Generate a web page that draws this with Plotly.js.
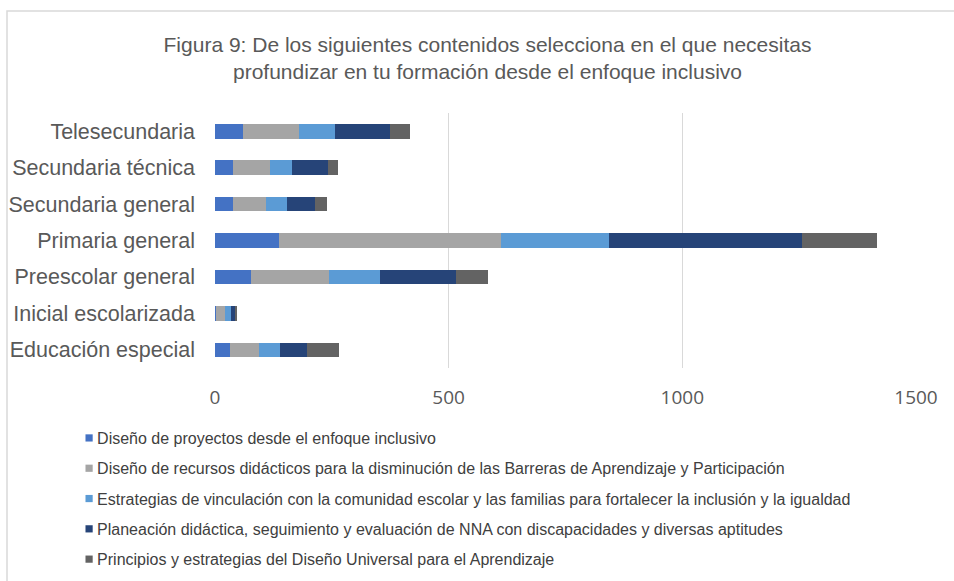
<!DOCTYPE html>
<html>
<head>
<meta charset="utf-8">
<script src="https://cdn.plot.ly/plotly-3.0.1.min.js"></script>
<style>html,body{margin:0;padding:0;background:#fff;}#chart{width:954px;height:581px;}</style>
</head>
<body>
<div id="chart"></div>
<script>
const categories = ["Telesecundaria","Secundaria técnica","Secundaria general","Primaria general","Preescolar general","Inicial escolarizada","Educación especial"];
const seriesNames = [
  "Diseño de proyectos desde el enfoque inclusivo",
  "Diseño de recursos didácticos para la disminución de las Barreras de Aprendizaje y Participación",
  "Estrategias de vinculación con la comunidad escolar y las familias para fortalecer la inclusión y la igualdad",
  "Planeación didáctica, seguimiento y evaluación de NNA con discapacidades y diversas aptitudes",
  "Principios y estrategias del Diseño Universal para el Aprendizaje"
];
const disenoProyectos   = [59, 39, 39, 138, 76, 2, 33];
const disenoRecursos    = [121, 79, 70, 473, 167, 19, 61];
const estrategiasVinc   = [76, 46, 44, 232, 110, 13, 46];
const planeacion        = [119, 78, 62, 413, 163, 8, 56];
const principiosDUA     = [43, 22, 24, 161, 69, 4, 70];
const tickVals = [0, 500, 1000, 1500];
const colors = ["#4472C4","#A5A5A5","#5B9BD5","#264478","#636363"];

const values = [disenoProyectos, disenoRecursos, estrategiasVinc, planeacion, principiosDUA];
const traces = values.map((v, i) => ({
  type: 'bar', orientation: 'h', x: v, y: categories, name: seriesNames[i],
  legendgroup: 'g' + i,
  marker: {color: colors[i], line: {width: 0}}
}));

const layout = {
  width: 954, height: 581,
  paper_bgcolor: '#fff', plot_bgcolor: '#fff',
  margin: {l: 215, r: 38, t: 113, b: 213, autoexpand: false},
  barmode: 'stack', bargap: 0.6,
  title: {
    text: 'Figura 9: De los siguientes contenidos selecciona en el que necesitas<br>profundizar en tu formación desde el enfoque inclusivo',
    font: {family: 'Liberation Sans, Arial, sans-serif', size: 21, color: '#595959'},
    x: 0.511, xref: 'container', xanchor: 'center',
    y: 0.911, yref: 'container', yanchor: 'middle'
  },
  xaxis: {
    range: [0, 1500], tickvals: tickVals, ticktext: tickVals.map(String),
    showgrid: true, gridcolor: '#D9D9D9', gridwidth: 1.5, zeroline: false,
    showline: false, ticks: '', ticklen: 0, ticklabelstandoff: 16,
    tickfont: {family: 'Open Sans, sans-serif', size: 19, color: '#595959'}
  },
  yaxis: {
    type: 'category', autorange: 'reversed',
    showgrid: false, zeroline: false, showline: false, ticks: '',
    ticklabelstandoff: 19,
    tickfont: {family: 'Liberation Sans, Arial, sans-serif', size: 21.5, color: '#595959'}
  },
  showlegend: true,
  legend: {
    orientation: 'v', traceorder: 'grouped', tracegroupgap: 6.5,
    x: -0.211, xanchor: 'left', y: -0.208, yanchor: 'top',
    font: {family: 'Liberation Sans, Arial, sans-serif', size: 16, color: '#404040'},
    itemwidth: 30, bgcolor: 'rgba(0,0,0,0)'
  },
  shapes: [{
    type: 'rect', xref: 'paper', yref: 'paper', layer: 'below',
    x0: (7 - 215) / 701, x1: 1.2, y0: -1.5, y1: (368 - 11) / 255,
    line: {color: '#D9D9D9', width: 1.5}, fillcolor: 'rgba(0,0,0,0)'
  }]
};

Plotly.newPlot('chart', traces, layout, {displayModeBar: false, staticPlot: true}).then(gd => {
  // compact legend symbols like the original (small square right next to the text)
  gd.querySelectorAll('.legend .traces').forEach(tr => {
    tr.querySelectorAll('.legendpoints path').forEach(p => {
      p.setAttribute('transform', 'translate(22,0) scale(0.6)');
    });
    const t = tr.querySelector('.legendtext');
    if (t) t.setAttribute('x', 30);
  });
});
</script>
</body>
</html>
